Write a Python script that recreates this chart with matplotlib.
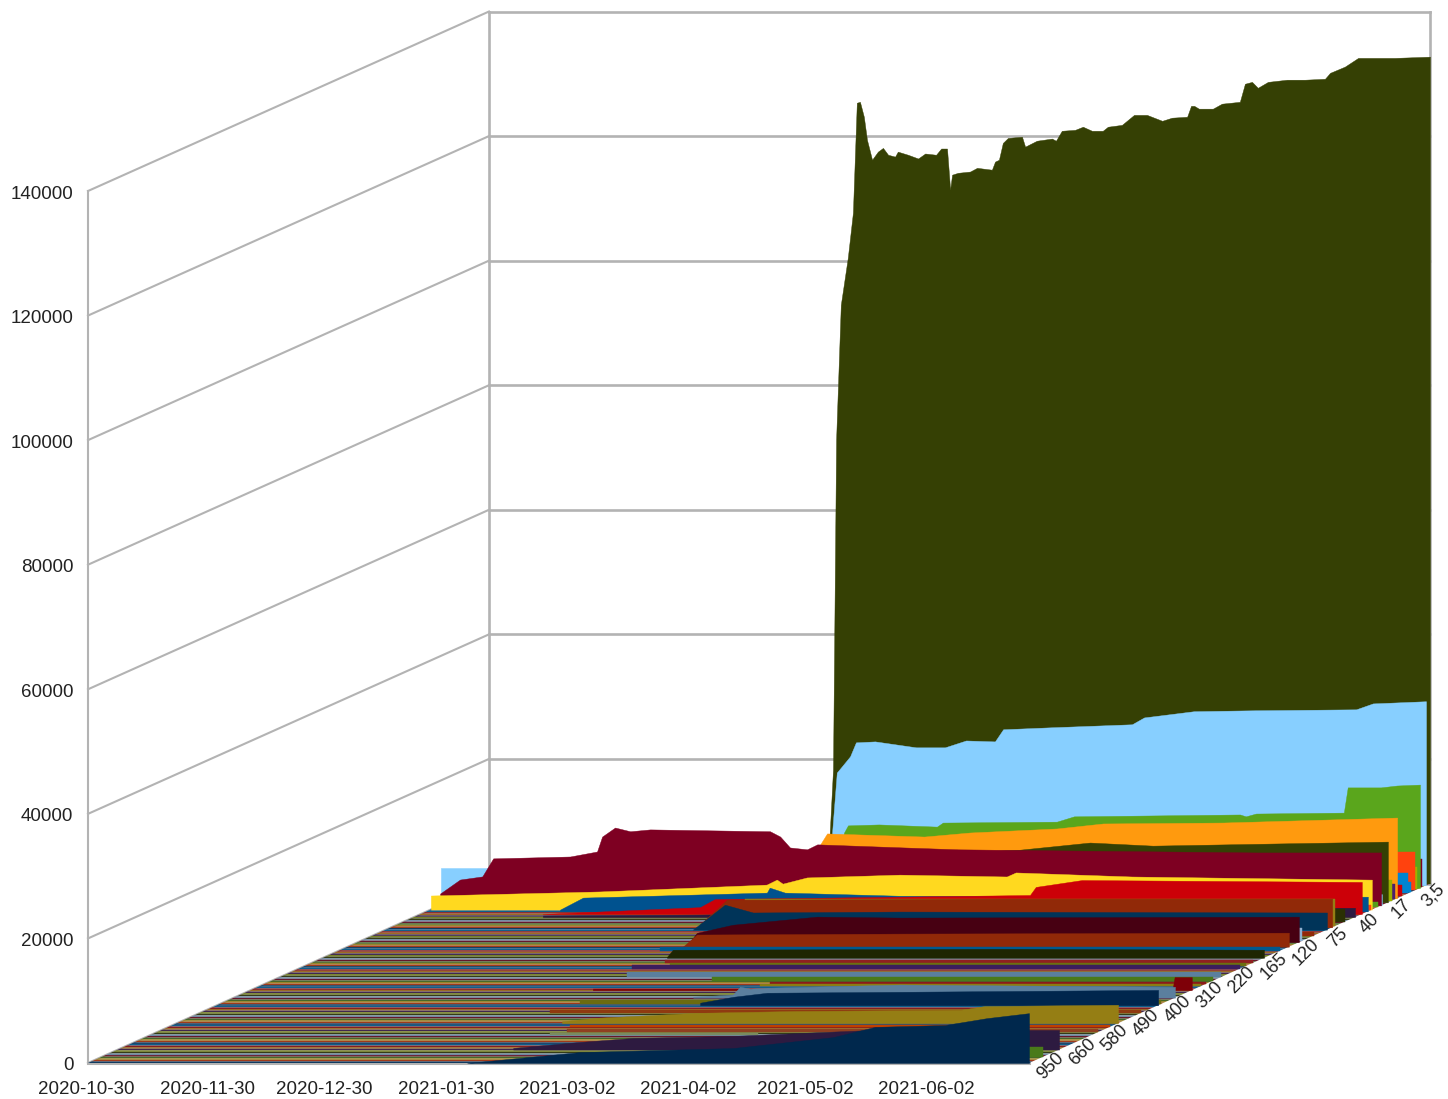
import matplotlib
matplotlib.use("Agg")
import matplotlib.pyplot as plt
from matplotlib.transforms import Affine2D
import numpy as np

plt.rcParams['font.family'] = ['Liberation Sans', 'DejaVu Sans']

W, H = 1448, 1099
LEFT, RIGHT, BASE, TOP = 88, 1029, 1063, 191
DX, DY = 401, 179.5
N_DAYS = 241
N_SERIES = 113

date_ticks = [0, 31, 61, 92, 123, 154, 184, 215]
date_labels = ['2020-10-30', '2020-11-30', '2020-12-30', '2021-01-30',
               '2021-03-02', '2021-04-02', '2021-05-02', '2021-06-02']
value_ticks = [0, 20000, 40000, 60000, 80000, 100000, 120000, 140000]
depth_labels = ['950', '660', '580', '490', '400', '310', '220', '165', '120', '75', '40', '17', '3,5']
depth_label_index = [3, 12, 21, 30, 39, 48, 57, 66, 75, 84, 93, 102, 111]

palette = ['#103a60', '#a03a1a', '#98842a', '#46682a', '#66182c', '#6f8aa4',
           '#343c18', '#768226', '#40284f', '#9a6c24', '#841e20', '#105f8c']

olive_days = [86.6, 88.1, 88.9, 90.1, 91.9, 93.2, 94.2, 95.0, 96.0, 96.8, 98.1, 99.6, 100.9, 102.2, 104.0,
              104.7, 107.3, 109.9, 111.7, 114.5, 115.8, 117.3, 118.1, 118.6, 120.1, 123.2, 125.0, 128.8,
              129.6, 130.6, 131.6, 132.9, 136.5, 137.3, 140.3, 144.2, 145.2, 146.7, 150.1, 152.1, 154.4,
              157.2, 158.5, 162.1, 165.2, 168.5, 172.4, 174.9, 178.8, 179.8, 180.6, 181.8, 185.4, 187.7,
              192.3, 193.6, 195.4, 196.9, 199.5, 204.4, 209.0, 214.1, 215.4, 219.2, 222.6, 232.0, 241.0]
olive_vals = [0, 18300, 71300, 92900, 100500, 107700, 125350, 125500, 123100, 119400, 116200, 117500, 118100,
              117000, 116700, 117500, 117000, 116400, 117200, 117000, 118000, 118000, 111400, 113800, 114100,
              114300, 114900, 114600, 115900, 116200, 118900, 119700, 119900, 118300, 119250, 119600, 119250,
              120850, 121000, 121500, 120850, 120850, 121500, 121800, 123400, 123400, 122450, 122950, 123100,
              124850, 124850, 124400, 124400, 125200, 125500, 128400, 128700, 127750, 128700, 129050, 129050,
              129200, 130150, 131150, 132550, 132550, 132750]

sky_days = [88.5, 88.9, 90.1, 93.5, 95.0, 99.9, 110.4, 117.8, 123.2, 130.6, 132.7, 144.4, 165.7, 168.8,
            181.6, 197.5, 223.1, 227.4, 241.0]
sky_vals = [0, 8500, 18100, 20700, 22950, 23100, 22150, 22150, 23250, 23100, 25050, 25350, 25850, 26950,
            27950, 28100, 28250, 29200, 29550]

green_days = [89.9, 93.5, 94.5, 102.4, 117.3, 118.8, 148.0, 152.4, 194.9, 196.4, 199.0, 221.5, 222.5, 231.0,
              235.1, 241.0]
green_vals = [0, 8900, 10050, 10200, 9850, 10500, 10650, 11500, 11800, 11500, 11950, 12100, 16150, 16150,
              16450, 16600]

orange_days = [92.2, 93.2, 95.0, 119.9, 131.6, 153.9, 165.7, 196.4, 241.0]
orange_vals = [0, 8600, 10400, 9900, 10550, 11200, 12000, 12150, 12950]

darkolive_days = [90.4, 116.0, 146.7, 164.7, 180.8, 212.6, 241.0]
darkolive_vals = [3650, 7650, 8450, 9600, 9100, 9450, 9750]

maroon_days = [0, 5.1, 10.8, 13.6, 33.3, 40.2, 41.5, 44.8, 48.7, 53.8, 84.5, 87.1, 89.6, 94.0, 96.6, 118.8,
               132.7, 209.0, 241.0]
maroon_vals = [1900, 4150, 4650, 7550, 7850, 8650, 11050, 12500, 11900, 12200, 11900, 11050, 9300, 9000, 9800,
               9300, 9000, 8500, 8500]

pale_days = [0, 45, 100, 241]
pale_vals = [5950, 5950, 3000, 1750]

yellow_days = [0, 43.3, 86.0, 88.6, 90.1, 96.3, 120.1, 147.5, 149.8, 179.5, 241.0]
yellow_vals = [2250, 2900, 4000, 4800, 4150, 5150, 5600, 5300, 5950, 5300, 4800]

blue_days = [34.1, 40.0, 87.1, 87.8, 91.7, 121.1, 241.0]
blue_vals = [270, 2200, 3000, 3800, 3000, 2500, 2350]

red_days = [31.2, 71.5, 75.3, 156.0, 157.5, 169.3, 241.0]
red_vals = [0, 1100, 2400, 3050, 4350, 5450, 5150]

rust_back_days = [79.1, 86.0, 98.3, 156.0, 241.0]
rust_back_vals = [450, 4450, 4450, 4600, 4600]

navy_mid_days = [78.6, 86.8, 94.0, 131.6, 241.0]
navy_mid_vals = [0, 4000, 2750, 2900, 2750]

wine_days = [85.0, 86.8, 96.0, 117.6, 138.8, 241.0]
wine_vals = [0, 1500, 2800, 4100, 3950, 4100]

rust_days = [85.8, 89.4, 141.4, 241.0]
rust_vals = [0, 1950, 2100, 2250]

blackgreen_days = [88.1, 89.6, 173.4, 241.0]
blackgreen_vals = [150, 1300, 1450, 1300]

bump_days = [87.6, 132.2, 236.1, 236.6, 241.0]
bump_vals = [250, 250, 250, 2100, 2100]

steel_days = [117.6, 127.8, 129.6, 132.2, 136.5, 170.6, 241.0]
steel_vals = [150, 500, 1750, 1450, 1600, 2100, 1750]

navy_back_days = [123.7, 132.2, 140.9, 174.9, 241.0]
navy_back_vals = [400, 1350, 2000, 2150, 2450]

gold_days = [98.6, 107.1, 132.7, 158.3, 200.8, 206.9, 241.0]
gold_vals = [300, 850, 1650, 1950, 2150, 2750, 2950]

purple_days = [101.2, 118.3, 131.9, 157.5, 174.7, 193.4, 241.0]
purple_vals = [260, 1220, 1860, 2180, 2660, 3150, 3150]

purple_back_days = [33, 73, 227, 241]
purple_back_vals = [250, 400, 1500, 1500]

navy_front_days = [97.1, 126.0, 165.2, 190.8, 201.6, 219.5, 230.2, 241.0]
navy_front_vals = [0, 1750, 2400, 4150, 5800, 6100, 7200, 8000]

shaped = [
    (1.000, olive_days, olive_vals, '#354004'),
    (0.990, sky_days, sky_vals, '#87cfff'),
    (0.975, green_days, green_vals, '#5aa61c'),
    (0.918, orange_days, orange_vals, '#ff9a0e'),
    (0.895, darkolive_days, darkolive_vals, '#354004'),
    (0.880, pale_days, pale_vals, '#87cfff'),
    (0.878, maroon_days, maroon_vals, '#7e0022'),
    (0.855, yellow_days, yellow_vals, '#ffd91f'),
    (0.845, blue_days, blue_vals, '#00528f'),
    (0.830, red_days, red_vals, '#cc0008'),
    (0.813, purple_back_days, purple_back_vals, '#2d1a40'),
    (0.756, rust_back_days, rust_back_vals, '#912908'),
    (0.743, navy_mid_days, navy_mid_vals, '#003459'),
    (0.673, wine_days, wine_vals, '#470012'),
    (0.648, rust_days, rust_vals, '#912908'),
    (0.586, blackgreen_days, blackgreen_vals, '#1e2602'),
    (0.406, bump_days, bump_vals, '#7e0008'),
    (0.364, steel_days, steel_vals, '#5b7f9e'),
    (0.322, navy_back_days, navy_back_vals, '#00264d'),
    (0.222, gold_days, gold_vals, '#957e14'),
    (0.075, purple_days, purple_vals, '#2d1a40'),
    (0.000, navy_front_days, navy_front_vals, '#00284d'),
]

thin_depths = [0.559, 0.542, 0.525, 0.480, 0.458, 0.441, 0.430, 0.330, 0.279, 0.201, 0.173, 0.156, 0.788, 0.762,
               0.625, 0.852, 0.9626, 0.945, 0.930, 0.952, 0.968, 0.980, 0.905, 0.912, 0.870, 0.680, 0.710, 0.035]
thin_starts = [90.4, 93.5, 85.5, 88.7, 112.9, 129.3, 128.0, 92.2, 89.6, 102.8, 105.0, 102.3, 85.0, 90.0,
               82.2, 100, 100, 120, 120, 120, 120, 120, 120, 120, 120, 100, 120, 190]
thin_ends = [241, 241, 241, 241, 241, 241, 241, 241, 241, 241, 241, 155.6, 241, 241,
             241, 241, 241, 241, 241, 241, 241, 241, 241, 241, 241, 241, 241, 241]
thin_vals = [480, 480, 640, 800, 640, 320, 320, 640, 500, 320, 480, 320, 1950, 4300,
             640, 800, 6200, 3350, 1850, 1700, 3650, 4450, 3350, 2400, 800, 2150, 640, 1550]
thin_colors = ['#8f2020', '#6b7010', '#3b1e5e', '#5b7f9e', '#4a7a1a', '#8b1a1a', '#8a7d12', '#6b6b10', '#8f3a10',
               '#c04000', '#8f4020', '#7a8a60', '#2a3003', '#957e14', '#00598f', '#ff420e', '#ff420e', '#0084d1',
               '#c5000b', '#0084d1', '#a0b000', '#7e0021', '#9ab000', '#4b1f6f', '#579d1c', '#8fb0d0', '#912908',
               '#4a7a1a']

fig = plt.figure(figsize=(W / 100, H / 100), dpi=100, facecolor='white')
ax = fig.add_axes([LEFT / W, (H - BASE) / H, (RIGHT - LEFT) / W, (BASE - TOP) / H])
ax.set_xlim(0, N_DAYS)
ax.set_ylim(0, 140000)
ax.patch.set_visible(False)
for s in ax.spines.values():
    s.set_visible(False)


def at_depth(d):
    return ax.transData + Affine2D().translate(DX * d, DY * d)


GRID = '#b3b3b3'
# walls
for v in value_ticks:
    p0 = at_depth(0).transform((0, v))
    p1 = at_depth(1).transform((0, v))
    ax.plot([p0[0], p1[0]], [p0[1], p1[1]], color=GRID, lw=1.5, transform=None, clip_on=False, zorder=1)
    ax.plot([0, N_DAYS], [v, v], color=GRID, lw=1.9, transform=at_depth(1), clip_on=False, zorder=1)
ax.plot([0, 0], [0, 140000], color=GRID, lw=1.5, clip_on=False, zorder=1)
ax.plot([0, 0], [0, 140000], color=GRID, lw=1.9, transform=at_depth(1), clip_on=False, zorder=1)
ax.plot([N_DAYS, N_DAYS], [0, 140000], color=GRID, lw=1.9, transform=at_depth(1), clip_on=False, zorder=1)
ax.plot([0, N_DAYS], [0, 0], color=GRID, lw=2.2, clip_on=False, zorder=1)

# floor ribbons of the series, back to front
floor = Affine2D(np.array([[(RIGHT - LEFT) / N_DAYS, DX, LEFT],
                           [0, DY, H - BASE],
                           [0, 0, 1.0]]))
for i in range(N_SERIES - 1, -1, -1):
    d1, d2 = i / N_SERIES, (i + 1) / N_SERIES
    ax.fill([0, N_DAYS, N_DAYS, 0], [d1, d1, d2, d2], color=palette[i % 12], lw=0,
            transform=floor, clip_on=False, zorder=2)

layers = list(shaped)
for d, a, b, v, c in zip(thin_depths, thin_starts, thin_ends, thin_vals, thin_colors):
    layers.append((d, [a, b], [v, v], c))
layers.sort(key=lambda r: -r[0])

for k, (d, days, vals, c) in enumerate(layers):
    ax.fill_between(days, vals, 0, color=c, lw=0.3, transform=at_depth(d), clip_on=False, zorder=3 + k * 0.01)

ax.set_xlim(0, N_DAYS)
ax.set_ylim(0, 140000)

TEXT = '#222222'
ax.set_xticks(date_ticks)
ax.set_xticklabels(date_labels, fontsize=13.5, color=TEXT)
ax.set_yticks(value_ticks)
ax.set_yticklabels([str(v) for v in value_ticks], fontsize=13.5, color=TEXT)
ax.tick_params(axis='x', length=0, pad=13.2)
ax.tick_params(axis='y', length=0, pad=10.5)
for lab in ax.get_xticklabels():
    lab.set_transform(lab.get_transform() + Affine2D().translate(-1.5, 0))
for lab in ax.get_yticklabels():
    lab.set_transform(lab.get_transform() + Affine2D().translate(0, -1))

for idx, txt in zip(depth_label_index, depth_labels):
    d = (idx + 0.5) / N_SERIES
    ax.text(N_DAYS, 0, txt, transform=at_depth(d) + Affine2D().translate(9, -9),
            rotation=45, rotation_mode='anchor', ha='center', va='center',
            fontsize=13, color=TEXT, clip_on=False, zorder=20)

fig.savefig('out.png', dpi=100, facecolor='white')
